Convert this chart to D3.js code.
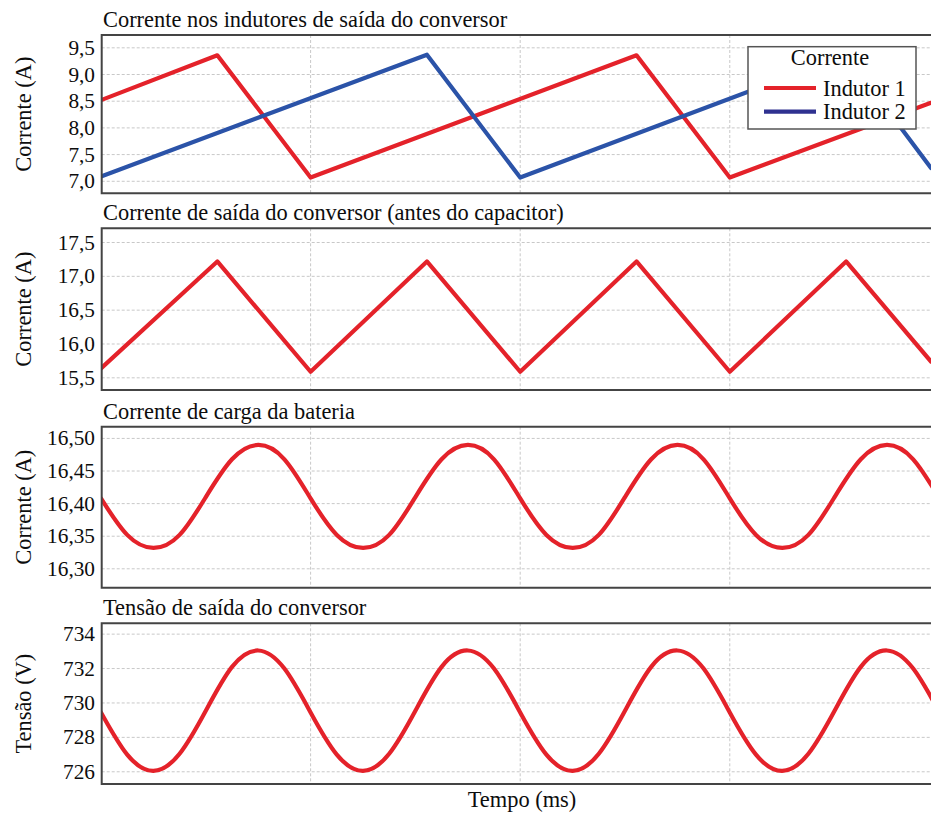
<!DOCTYPE html>
<html><head><meta charset="utf-8">
<script src="https://cdn.jsdelivr.net/npm/d3@7"></script>
<style>html,body{margin:0;padding:0;background:#fff;}svg{display:block;}</style>
</head><body>
<svg id="c" width="931" height="814"></svg>
<script>
// ---------- data ----------
const titles = ["Corrente nos indutores de saída do conversor",
  "Corrente de saída do conversor (antes do capacitor)",
  "Corrente de carga da bateria",
  "Tensão de saída do conversor"];
const yLabels = ["Corrente (A)", "Corrente (A)", "Corrente (A)", "Tensão (V)"];
const xLabel = "Tempo (ms)";
const xGridTicks = [1, 2, 3];

// Panel 1: inductor currents (triangular)
const ind1Time = [0, 0.555, 1.0, 2.555, 3.0, 3.96];
const ind1Vals = [8.52, 9.36, 7.07, 9.36, 7.07, 8.47];
const ind2Time = [0, 1.555, 2.0, 3.555, 3.96];
const ind2Vals = [7.09, 9.37, 7.07, 9.37, 7.25];
const p1Ticks = [7.0, 7.5, 8.0, 8.5, 9.0, 9.5];

// Panel 2: converter output current
const outTime = [0, 0.555, 1.0, 1.555, 2.0, 2.555, 3.0, 3.555, 3.96];
const outVals = [15.64, 17.22, 15.59, 17.22, 15.59, 17.22, 15.59, 17.22, 15.74];
const p2Ticks = [15.5, 16.0, 16.5, 17.0, 17.5];

// Panels 3 & 4: sampled every 0.125 ms
const sineTime = [0, 0.125, 0.25, 0.375, 0.5, 0.625, 0.75, 0.875,
  1, 1.125, 1.25, 1.375, 1.5, 1.625, 1.75, 1.875,
  2, 2.125, 2.25, 2.375, 2.5, 2.625, 2.75, 2.875,
  3, 3.125, 3.25, 3.375, 3.5, 3.625, 3.75, 3.875, 4];
const batVals = [16.408, 16.352, 16.332, 16.352, 16.410, 16.468, 16.490, 16.468,
  16.408, 16.352, 16.332, 16.352, 16.410, 16.468, 16.490, 16.468,
  16.408, 16.352, 16.332, 16.352, 16.410, 16.468, 16.490, 16.468,
  16.408, 16.352, 16.332, 16.352, 16.410, 16.468, 16.490, 16.468, 16.408];
const p3Ticks = [16.30, 16.35, 16.40, 16.45, 16.50];
const voltVals = [729.45, 727.0, 726.05, 727.05, 729.55, 732.1, 733.05, 732.0,
  729.45, 727.0, 726.05, 727.05, 729.55, 732.1, 733.05, 732.0,
  729.45, 727.0, 726.05, 727.05, 729.55, 732.1, 733.05, 732.0,
  729.45, 727.0, 726.05, 727.05, 729.55, 732.1, 733.05, 732.0, 729.45];
const p4Ticks = [726, 728, 730, 732, 734];

const legendTitle = "Corrente";
const legendNames = ["Indutor 1", "Indutor 2"];

// ---------- layout ----------
const svg = d3.select("#c");
const FONT = "'Liberation Serif','Times New Roman',serif";
const RED = "#e4222a", BLUE = "#2b53a8", NAVY = "#2f3190";
const TXT = "#0d0d0d";
const left = 101.7, right = 932;
const x = d3.scaleLinear().domain([0, 3.96]).range([101, 931]);

const panels = [
  {top: 35, bottom: 193.3, dom: [6.775, 9.74], ticks: p1Ticks, fmt: v => d3.format(".1f")(v).replace(".", ","),
   series: [{t: ind1Time, v: ind1Vals, c: RED, curve: d3.curveLinear}, {t: ind2Time, v: ind2Vals, c: BLUE, curve: d3.curveLinear}]},
  {top: 228.3, bottom: 390, dom: [15.32, 17.71], ticks: p2Ticks, fmt: v => d3.format(".1f")(v).replace(".", ","),
   series: [{t: outTime, v: outVals, c: RED, curve: d3.curveLinear}]},
  {top: 426.7, bottom: 587.7, dom: [16.271, 16.518], ticks: p3Ticks, fmt: v => d3.format(".2f")(v).replace(".", ","),
   series: [{t: sineTime, v: batVals, c: RED, curve: d3.curveNatural}]},
  {top: 623.3, bottom: 784, dom: [725.29, 734.63], ticks: p4Ticks, fmt: v => d3.format("d")(v),
   series: [{t: sineTime, v: voltVals, c: RED, curve: d3.curveNatural}]}
];

panels.forEach((p, i) => {
  const y = d3.scaleLinear().domain(p.dom).range([p.bottom, p.top]);
  const g = svg.append("g");
  const cid = "clip" + i;
  svg.append("clipPath").attr("id", cid).append("rect")
    .attr("x", left).attr("y", p.top).attr("width", right - left).attr("height", p.bottom - p.top);

  // grid
  g.append("g").selectAll("line").data(p.ticks).join("line")
    .attr("x1", left).attr("x2", right).attr("y1", d => y(d)).attr("y2", d => y(d))
    .attr("stroke", "#c8c8c8").attr("stroke-width", 1).attr("stroke-dasharray", "3,2");
  g.append("g").selectAll("line").data(xGridTicks).join("line")
    .attr("x1", d => x(d)).attr("x2", d => x(d)).attr("y1", p.top).attr("y2", p.bottom)
    .attr("stroke", "#c8c8c8").attr("stroke-width", 1).attr("stroke-dasharray", "3,2");

  // tick labels
  g.append("g").selectAll("text").data(p.ticks).join("text")
    .attr("x", 95).attr("y", d => y(d)).attr("dy", "0.33em")
    .attr("text-anchor", "end").attr("font-family", FONT).attr("font-size", 21.3).attr("fill", TXT)
    .text(p.fmt);

  // series
  p.series.forEach(s => {
    const line = d3.line().x((d, k) => x(s.t[k])).y(d => y(d)).curve(s.curve);
    g.append("path").attr("d", line(s.v)).attr("clip-path", `url(#${cid})`)
      .attr("fill", "none").attr("stroke", s.c).attr("stroke-width", 4.2)
      .attr("stroke-linejoin", "round").attr("stroke-linecap", "round");
  });

  // frame
  g.append("path")
    .attr("d", `M${right},${p.top}H${left}V${p.bottom}H${right}`)
    .attr("fill", "none").attr("stroke", "#444").attr("stroke-width", 2);

  // title
  g.append("text").attr("x", 103).attr("y", p.top - 8)
    .attr("font-family", FONT).attr("font-size", 22.4).attr("fill", TXT).text(titles[i]);

  // y label
  g.append("text").attr("transform", `translate(31,${(p.top + p.bottom) / 2}) rotate(-90)`)
    .attr("text-anchor", "middle").attr("font-family", FONT).attr("font-size", 22.4).attr("fill", TXT)
    .text(yLabels[i]);
});

// x label
svg.append("text").attr("x", 522).attr("y", 807).attr("text-anchor", "middle")
  .attr("font-family", FONT).attr("font-size", 22.4).attr("fill", TXT).text(xLabel);

// legend
const lg = svg.append("g");
lg.append("rect").attr("x", 748).attr("y", 46.7).attr("width", 168).attr("height", 82.3)
  .attr("fill", "#fff").attr("stroke", "#555").attr("stroke-width", 1.5);
lg.append("text").attr("x", 830).attr("y", 65).attr("text-anchor", "middle")
  .attr("font-family", FONT).attr("font-size", 22.4).attr("fill", TXT).text(legendTitle);
[RED, NAVY].forEach((c, k) => {
  const yy = 88 + k * 23.7;
  lg.append("line").attr("x1", 764).attr("x2", 816).attr("y1", yy).attr("y2", yy)
    .attr("stroke", c).attr("stroke-width", 4.2);
  lg.append("text").attr("x", 823).attr("y", yy + 7.5)
    .attr("font-family", FONT).attr("font-size", 22.4).attr("fill", TXT).text(legendNames[k]);
});
</script>
</body></html>
